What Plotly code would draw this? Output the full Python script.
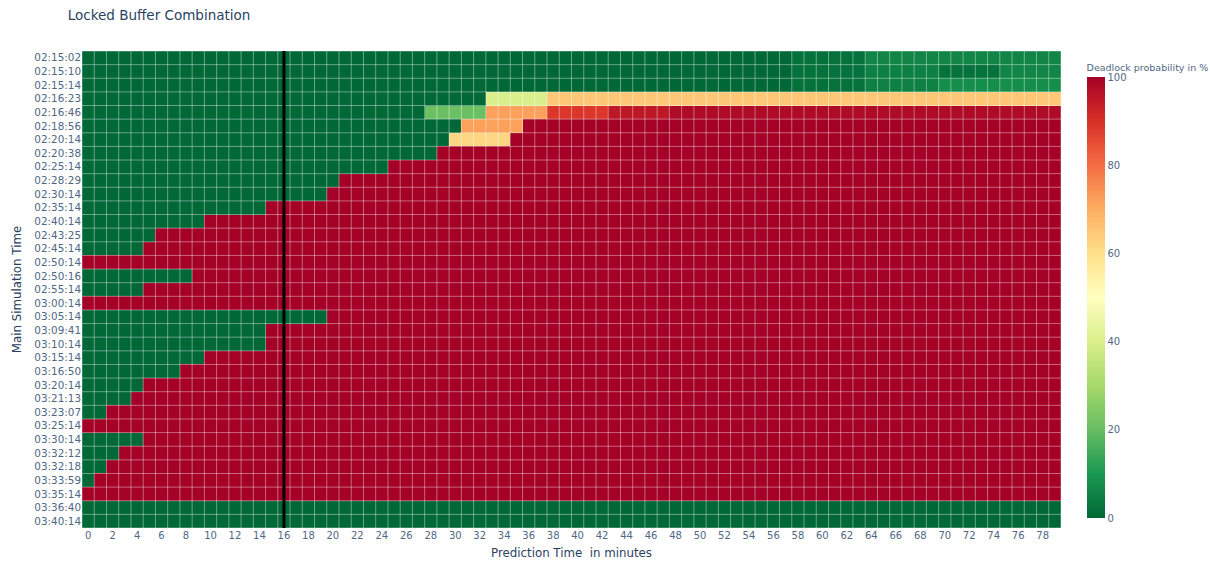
import plotly.graph_objects as go

# Prediction horizon (minutes) on the x axis
prediction_minutes = list(range(80))

# Main simulation timestamps on the y axis (top to bottom)
sim_times = [
    "02:15:02", "02:15:10", "02:15:14", "02:16:23", "02:16:46", "02:18:56",
    "02:20:14", "02:20:38", "02:25:14", "02:28:29", "02:30:14", "02:35:14",
    "02:40:14", "02:43:25", "02:45:14", "02:50:14", "02:50:16", "02:55:14",
    "03:00:14", "03:05:14", "03:09:41", "03:10:14", "03:15:14", "03:16:50",
    "03:20:14", "03:21:13", "03:23:07", "03:25:14", "03:30:14", "03:32:12",
    "03:32:18", "03:33:59", "03:35:14", "03:36:40", "03:40:14",
]

# Deadlock probability per row, stored as (value %, number of consecutive minutes)
row_runs = [
    [(0, 58), (2, 6), (6, 16)],
    [(0, 58), (2, 6), (5, 6), (2, 5), (6, 5)],
    [(0, 58), (2, 6), (5, 6), (8, 10)],
    [(0, 33), (40, 5), (65, 42)],
    [(0, 28), (21, 5), (72, 5), (89, 5), (95, 5), (98, 32)],
    [(0, 31), (72, 5), (100, 44)],
    [(0, 30), (62, 5), (100, 45)],
    [(0, 29), (100, 51)],
    [(0, 25), (100, 55)],
    [(0, 21), (100, 59)],
    [(0, 20), (100, 60)],
    [(0, 15), (100, 65)],
    [(0, 10), (100, 70)],
    [(0, 6), (100, 74)],
    [(0, 5), (100, 75)],
    [(100, 80)],
    [(0, 9), (100, 71)],
    [(0, 5), (100, 75)],
    [(100, 80)],
    [(0, 20), (100, 60)],
    [(0, 15), (100, 65)],
    [(0, 15), (100, 65)],
    [(0, 10), (100, 70)],
    [(0, 8), (100, 72)],
    [(0, 5), (100, 75)],
    [(0, 4), (100, 76)],
    [(0, 2), (100, 78)],
    [(100, 80)],
    [(0, 5), (100, 75)],
    [(0, 3), (100, 77)],
    [(0, 2), (100, 78)],
    [(0, 1), (100, 79)],
    [(100, 80)],
    [(0, 80)],
    [(0, 80)],
]

# Current time marker on the prediction axis
current_minute = 16

x_tick_values = list(range(0, 80, 2))
colorbar_ticks = [0, 20, 40, 60, 80, 100]

FONT = "Verdana, DejaVu Sans, sans-serif"
LABEL_COLOR = "#506784"


def expand(runs):
    row = []
    for value, count in runs:
        row.extend([value] * count)
    return row


z = [expand(r) for r in row_runs]
row_index = list(range(len(sim_times)))

fig = go.Figure()

fig.add_trace(
    go.Heatmap(
        z=z,
        x=prediction_minutes,
        y=row_index,
        colorscale="RdYlGn_r",
        zmin=0,
        zmax=100,
        colorbar=dict(
            title=dict(text="Deadlock probability in %", side="top",
                       font=dict(size=9.5, family=FONT, color=LABEL_COLOR)),
            thickness=18,
            x=1.02,
            xpad=6,
            tickvals=colorbar_ticks,
            tickfont=dict(size=10, family=FONT, color=LABEL_COLOR),
            outlinewidth=0,
        ),
    )
)

# Thin translucent cell borders drawn over the heatmap
grid_x, grid_y = [], []
n_cols, n_rows = len(prediction_minutes), len(sim_times)
for k in range(n_cols + 1):
    xb = prediction_minutes[0] - 0.5 + k
    grid_x += [xb, xb, None]
    grid_y += [-0.5, n_rows - 0.5, None]
for k in range(n_rows + 1):
    yb = -0.5 + k
    grid_x += [prediction_minutes[0] - 0.5, prediction_minutes[-1] + 0.5, None]
    grid_y += [yb, yb, None]

fig.add_trace(
    go.Scatter(
        x=grid_x, y=grid_y, mode="lines",
        line=dict(color="rgba(255,255,255,0.4)", width=1),
        hoverinfo="skip", showlegend=False,
    )
)

fig.add_vline(x=current_minute, line_color="black", line_width=3)

fig.update_layout(
    width=1210,
    height=562,
    template="plotly",
    plot_bgcolor="white",
    paper_bgcolor="white",
    font=dict(family=FONT, color=LABEL_COLOR),
    title=dict(text="Locked Buffer Combination", x=0.056, xanchor="left",
               y=1 - 15 / 562, yanchor="middle",
               font=dict(size=13.5, family=FONT, color="#2a3f5f")),
    margin=dict(l=82, r=149, t=51, b=34, autoexpand=False),
    xaxis=dict(
        title=dict(text="Prediction Time  in minutes", standoff=8,
                   font=dict(size=11.8, family=FONT, color="#2a3f5f")),
        tickvals=x_tick_values,
        range=[-0.5, n_cols - 0.5],
        showgrid=False,
        zeroline=False,
        automargin=False,
        tickfont=dict(size=10, family=FONT, color=LABEL_COLOR),
    ),
    yaxis=dict(
        title=dict(text="Main Simulation Time", standoff=10,
                   font=dict(size=11.8, family=FONT, color="#2a3f5f")),
        tickvals=row_index,
        ticktext=sim_times,
        range=[n_rows - 0.5, -0.5],
        showgrid=False,
        zeroline=False,
        automargin=False,
        tickfont=dict(size=10.4, family=FONT, color=LABEL_COLOR),
    ),
)

fig.write_html("out.html")
